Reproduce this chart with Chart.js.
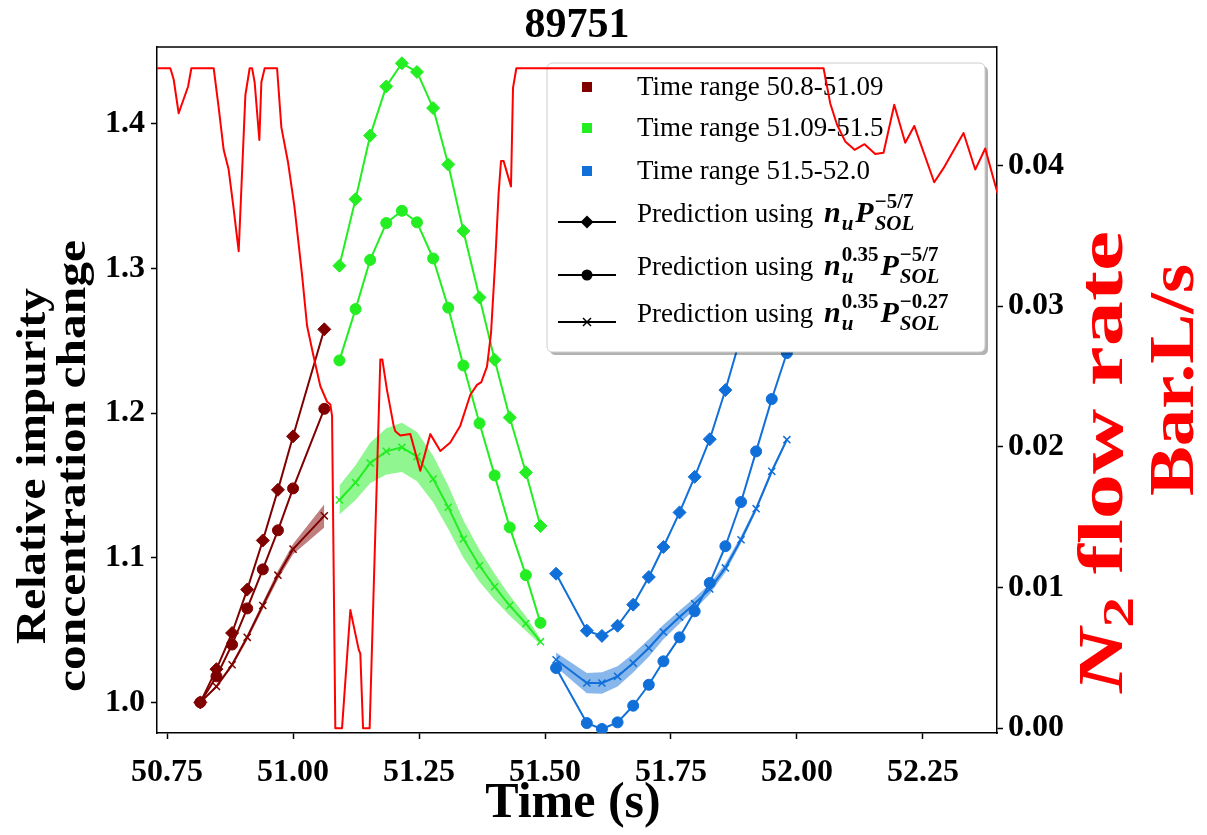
<!DOCTYPE html>
<html>
<head>
<meta charset="utf-8">
<script src="https://cdn.jsdelivr.net/npm/chart.js@4.4.1/dist/chart.umd.min.js"></script>
<style>
  html, body { margin: 0; padding: 0; background: #ffffff; }
  #wrap { width: 1207px; height: 835px; }
</style>
</head>
<body>
<div id="wrap"><canvas id="chart" width="1207" height="835"></canvas></div>
<script>
// ---- shot 89751: impurity concentration change vs time, with N2 flow rate ----

const shotTitle = '89751';

// axis ticks
const xTickValues  = [50.75, 51.00, 51.25, 51.50, 51.75, 52.00, 52.25];
const yTickValues  = [1.0, 1.1, 1.2, 1.3, 1.4];
const y2TickValues = [0.00, 0.01, 0.02, 0.03, 0.04];

// time range 50.8-51.09
const darkTimes   = [50.816, 50.848, 50.879, 50.909, 50.940, 50.970, 51.000, 51.062];
const darkDiamond = [1.000, 1.023, 1.048, 1.078, 1.112, 1.147, 1.184, 1.258];
const darkCircle  = [1.000, 1.018, 1.040, 1.065, 1.092, 1.119, 1.148, 1.203];
const darkCross   = [1.000, 1.011, 1.026, 1.045, 1.067, 1.088, 1.106, 1.129];
const darkSpread  = [0.0005, 0.001, 0.0015, 0.002, 0.0025, 0.003, 0.0035, 0.008];

// time range 51.09-51.5
const greenTimes   = [51.092, 51.124, 51.153, 51.185, 51.216, 51.246, 51.278, 51.308, 51.338, 51.370, 51.400, 51.430, 51.462, 51.491];
const greenDiamond = [1.302, 1.348, 1.392, 1.426, 1.442, 1.436, 1.411, 1.372, 1.326, 1.280, 1.237, 1.197, 1.159, 1.122];
const greenCircle  = [1.2365, 1.272, 1.306, 1.3315, 1.340, 1.332, 1.307, 1.273, 1.233, 1.193, 1.157, 1.121, 1.088, 1.055];
const greenCross   = [1.140, 1.152, 1.1655, 1.1736, 1.1764, 1.170, 1.1545, 1.135, 1.113, 1.0945, 1.080, 1.067, 1.0545, 1.042];
const greenSpread  = [0.010, 0.012, 0.014, 0.016, 0.017, 0.017, 0.016, 0.015, 0.013, 0.011, 0.009, 0.007, 0.005, 0.002];

// time range 51.5-52.0
const blueTimes   = [51.522, 51.583, 51.613, 51.644, 51.675, 51.706, 51.735, 51.767, 51.797, 51.827, 51.858, 51.889, 51.919, 51.950, 51.980];
const blueDiamond = [1.089, 1.0496, 1.046, 1.053, 1.0676, 1.0867, 1.1075, 1.1314, 1.156, 1.182, 1.216, 1.2535, 1.2935, 1.337, 1.384];
const blueCircle  = [1.0238, 0.9857, 0.9816, 0.9862, 0.9977, 1.0122, 1.0284, 1.045, 1.063, 1.0826, 1.108, 1.1386, 1.1736, 1.2098, 1.2416];
const blueCross   = [1.0295, 1.0134, 1.0134, 1.018, 1.0272, 1.0376, 1.0487, 1.059, 1.0683, 1.0784, 1.093, 1.1125, 1.134, 1.1598, 1.1817];
const blueSpread  = [0.005, 0.007, 0.0075, 0.007, 0.0065, 0.006, 0.005, 0.0045, 0.004, 0.0035, 0.003, 0.0025, 0.002, 0.002, 0.0015];

// N2 flow rate (Bar.L/s)
const n2Times = [50.730, 50.7565, 50.7631, 50.7730, 50.7917, 50.7982, 50.8425, 50.8524, 50.8623, 50.8722,
  50.8821, 50.8921, 50.9054, 50.9139, 50.9187, 50.9238, 50.9331, 50.9371, 50.9437, 50.9683,
  50.9768, 50.9901, 51.0026, 51.0111, 51.0179, 51.0278, 51.0409, 51.0542, 51.0675, 51.0740,
  51.0774, 51.0839, 51.0972, 51.1137, 51.1302, 51.1335, 51.1389, 51.1520, 51.1732, 51.1772,
  51.1861, 51.1996, 51.2030, 51.2129, 51.2327, 51.2526, 51.2724, 51.2923, 51.3121, 51.3319,
  51.3518, 51.3651, 51.3736, 51.3849, 51.3929, 51.4014, 51.4079, 51.4127, 51.4179, 51.4325,
  51.4365, 51.4431, 52.0528, 52.0661, 52.0794, 52.0958, 52.1143, 52.1341, 52.1554, 52.1718,
  52.1931, 52.2149, 52.2328, 52.2724, 52.2909, 52.3306, 52.3538, 52.3736, 52.3935, 52.4050];
const n2Rates = [0.0469, 0.0469, 0.0461, 0.0437, 0.0456, 0.0469, 0.0469, 0.0441, 0.0411, 0.0397,
  0.0369, 0.0339, 0.0450, 0.0469, 0.0469, 0.0459, 0.0418, 0.0459, 0.0469, 0.0469,
  0.0427, 0.0402, 0.0371, 0.0344, 0.0322, 0.0286, 0.0264, 0.0243, 0.0232, 0.0230,
  0.0222, 0.0000, 0.0000, 0.0084, 0.0056, 0.0053, 0.0000, 0.0000, 0.0262, 0.0262,
  0.0241, 0.0215, 0.0211, 0.0208, 0.0209, 0.0183, 0.0209, 0.0197, 0.0203, 0.0215,
  0.0237, 0.0244, 0.0246, 0.0257, 0.0281, 0.0333, 0.0380, 0.0403, 0.0403, 0.0385,
  0.0455, 0.0469, 0.0469, 0.0444, 0.0429, 0.0417, 0.0411, 0.0415, 0.0408, 0.0409,
  0.0443, 0.0416, 0.0428, 0.0388, 0.0398, 0.0423, 0.0397, 0.0412, 0.0386, 0.0372];

// legend content
const rangeLabels = ['Time range 50.8-51.09', 'Time range 51.09-51.5', 'Time range 51.5-52.0'];
const predictionPrefix = 'Prediction using ';
const nExponents = [null, '0.35', '0.35'];
const pExponents = ['\u22125/7', '\u22125/7', '\u22120.27'];

// styles
const DARK = '#800000', GREEN = '#22ee22', BLUE = '#116fd9', RED = '#ff0000';
const SERIF = "'Liberation Serif', 'DejaVu Serif', serif";

const pts = (xs, ys) => xs.map((x, i) => ({ x: x, y: ys[i] }));
const offset = (ys, d, s) => ys.map((v, i) => v + s * d[i]);

function groupDatasets(times, diamond, circle, cross, spread, color, band) {
  const common = { yAxisID: 'y', borderColor: color, backgroundColor: color, borderWidth: 2,
                   pointBackgroundColor: color, pointBorderColor: color, tension: 0, fill: false };
  return [
    { data: pts(times, offset(cross, spread, -1)), yAxisID: 'y', borderWidth: 0, pointRadius: 0, fill: false, order: 5 },
    { data: pts(times, offset(cross, spread, 1)), yAxisID: 'y', borderWidth: 0, pointRadius: 0, fill: '-1', backgroundColor: band, order: 5 },
    Object.assign({}, common, { data: pts(times, diamond), pointStyle: 'rectRot', pointRadius: 6.5, pointBorderWidth: 1, order: 2 }),
    Object.assign({}, common, { data: pts(times, circle), pointStyle: 'circle', pointRadius: 5.5, pointBorderWidth: 1, order: 2 }),
    Object.assign({}, common, { data: pts(times, cross), pointStyle: 'crossRot', pointRadius: 5, pointBorderWidth: 1.5, order: 2 })
  ];
}

const datasets = [].concat(
  groupDatasets(darkTimes, darkDiamond, darkCircle, darkCross, darkSpread, DARK, 'rgba(128,0,0,0.5)'),
  groupDatasets(greenTimes, greenDiamond, greenCircle, greenCross, greenSpread, GREEN, 'rgba(34,238,34,0.5)'),
  groupDatasets(blueTimes, blueDiamond, blueCircle, blueCross, blueSpread, BLUE, 'rgba(17,111,217,0.5)'),
  [{ id: 'n2', data: pts(n2Times, n2Rates), yAxisID: 'y2', borderColor: RED, borderWidth: 2,
     pointRadius: 0, tension: 0, fill: false, order: 0 }]
);

function roundRect(ctx, x, y, w, h, r) {
  ctx.beginPath();
  ctx.moveTo(x + r, y);
  ctx.lineTo(x + w - r, y); ctx.quadraticCurveTo(x + w, y, x + w, y + r);
  ctx.lineTo(x + w, y + h - r); ctx.quadraticCurveTo(x + w, y + h, x + w - r, y + h);
  ctx.lineTo(x + r, y + h); ctx.quadraticCurveTo(x, y + h, x, y + h - r);
  ctx.lineTo(x, y + r); ctx.quadraticCurveTo(x, y, x + r, y);
  ctx.closePath();
}

function marker(ctx, style, x, y) {
  ctx.beginPath();
  if (style === 'diamond') {
    const r = 6.5;
    ctx.moveTo(x, y - r); ctx.lineTo(x + r, y); ctx.lineTo(x, y + r); ctx.lineTo(x - r, y); ctx.closePath(); ctx.fill();
  } else if (style === 'circle') {
    ctx.arc(x, y, 5.5, 0, Math.PI * 2); ctx.fill();
  } else {
    const r = 4;
    ctx.lineWidth = 1.5;
    ctx.moveTo(x - r, y - r); ctx.lineTo(x + r, y + r); ctx.moveTo(x + r, y - r); ctx.lineTo(x - r, y + r); ctx.stroke();
  }
}

// symbol with stacked superscript / subscript, returns new x
function mathSymbol(ctx, x, base, sym, sup, sub) {
  ctx.font = 'italic bold 30px ' + SERIF;
  ctx.fillText(sym, x, base);
  x += ctx.measureText(sym).width + 1;
  let w = 0;
  if (sup) { ctx.font = 'bold 21px ' + SERIF; ctx.fillText(sup, x, base - 14); w = Math.max(w, ctx.measureText(sup).width); }
  if (sub) { ctx.font = 'italic bold 21px ' + SERIF; ctx.fillText(sub, x, base + 8); w = Math.max(w, ctx.measureText(sub).width); }
  return x + w + 2;
}

function drawLegend(chart) {
  const ctx = chart.ctx;
  const L = { x: 547, y: 63, w: 438, h: 289 };
  ctx.save();
  ctx.fillStyle = 'rgba(0,0,0,0.3)';
  roundRect(ctx, L.x + 3, L.y + 3, L.w, L.h, 6); ctx.fill();
  ctx.fillStyle = '#ffffff';
  roundRect(ctx, L.x, L.y, L.w, L.h, 6); ctx.fill();
  ctx.strokeStyle = '#cccccc'; ctx.lineWidth = 1; ctx.stroke();

  const mx = L.x + 40, tx = L.x + 90;
  const rangeColors = [DARK, GREEN, BLUE];
  const rangeRows = [87, 128, 171];
  ctx.textAlign = 'left'; ctx.textBaseline = 'alphabetic';
  rangeLabels.forEach((label, i) => {
    ctx.fillStyle = rangeColors[i];
    ctx.fillRect(mx - 5, rangeRows[i] - 5, 10, 10);
    ctx.fillStyle = '#000';
    ctx.font = '27px ' + SERIF;
    ctx.fillText(label, tx, rangeRows[i] + 8);
  });

  const predRows = [222, 275, 322];
  const styles = ['diamond', 'circle', 'cross'];
  predRows.forEach((y, i) => {
    ctx.strokeStyle = '#000'; ctx.fillStyle = '#000'; ctx.lineWidth = 2;
    ctx.beginPath(); ctx.moveTo(mx - 29, y); ctx.lineTo(mx + 29, y); ctx.stroke();
    marker(ctx, styles[i], mx, y);
    ctx.font = '27px ' + SERIF;
    ctx.fillText(predictionPrefix, tx, y);
    let x = tx + ctx.measureText(predictionPrefix).width + 4;
    x = mathSymbol(ctx, x, y, 'n', nExponents[i], 'u');
    mathSymbol(ctx, x, y, 'P', pExponents[i], 'SOL');
  });
  ctx.restore();
}

// draws rotated text pieces stretched along the reading direction to a given length
function rotatedLine(ctx, pieces, cx, cy, baseX, length) {
  let total = 0;
  pieces.forEach(p => { ctx.font = p.font; p.w = ctx.measureText(p.text).width; total += p.w; });
  const sx = length / total;
  ctx.save();
  ctx.translate(baseX, cy);
  ctx.rotate(-Math.PI / 2);
  ctx.scale(sx, 1);
  ctx.textAlign = 'left';
  let x = -total / 2;
  pieces.forEach(p => { ctx.font = p.font; ctx.fillText(p.text, x, p.dy || 0); x += p.w; });
  ctx.restore();
}

const decorations = {
  id: 'decorations',
  beforeDatasetDraw(chart, args) {
    if (chart.data.datasets[args.index].id === 'n2') drawLegend(chart);
  },
  afterDraw(chart) {
    const ctx = chart.ctx, a = chart.chartArea;
    ctx.save();
    // top spine
    ctx.strokeStyle = '#000'; ctx.lineWidth = 1.5;
    ctx.beginPath(); ctx.moveTo(a.left, a.top); ctx.lineTo(a.right, a.top); ctx.stroke();

    ctx.fillStyle = '#000'; ctx.textAlign = 'center'; ctx.textBaseline = 'alphabetic';
    ctx.font = 'bold 42px ' + SERIF;
    ctx.fillText(shotTitle, (a.left + a.right) / 2, 37);
    ctx.font = 'bold 50px ' + SERIF;
    ctx.fillText('Time (s)', (a.left + a.right) / 2 - 4, 817);

    // left axis title
    const bl = 'bold 43px ' + SERIF;
    rotatedLine(ctx, [{ text: 'Relative impurity', font: bl }], 0, 466, 45, 356);
    rotatedLine(ctx, [{ text: 'concentration change', font: bl }], 0, 466, 85, 452);

    // right axis title
    ctx.fillStyle = RED;
    const br = 'bold 64px ' + SERIF;
    rotatedLine(ctx, [
      { text: 'N', font: 'italic ' + br },
      { text: '2', font: 'bold 44px ' + SERIF, dy: 11 },
      { text: ' flow rate', font: br }
    ], 0, 462, 1122, 462);
    rotatedLine(ctx, [{ text: 'Bar.L/s', font: br }], 0, 380, 1193, 232);
    ctx.restore();
  }
};

const tickFont = { family: SERIF, size: 32, weight: 'bold' };
const axisGrid = { drawOnChartArea: false, tickLength: 6, tickColor: '#000', tickWidth: 1.5 };
const axisBorder = { display: true, color: '#000', width: 1.5 };

new Chart(document.getElementById('chart'), {
  type: 'line',
  data: { datasets: datasets },
  options: {
    responsive: false,
    animation: false,
    devicePixelRatio: 1,
    layout: { padding: { top: 47, left: 0, right: 0, bottom: 0 } },
    plugins: { legend: { display: false }, tooltip: { enabled: false }, title: { display: false } },
    elements: { line: { borderJoinStyle: 'round' } },
    scales: {
      x: {
        type: 'linear', position: 'bottom', min: 50.730, max: 52.397,
        afterFit: s => { s.height = 102; },
        afterBuildTicks: s => { s.ticks = xTickValues.map(v => ({ value: v })); },
        ticks: { font: tickFont, color: '#000', padding: 15, maxRotation: 0, autoSkip: false,
                 callback: v => Number(v).toFixed(2) },
        grid: axisGrid, border: axisBorder
      },
      y: {
        type: 'linear', position: 'left', min: 0.97884, max: 1.45325,
        afterFit: s => { s.width = 157; },
        afterBuildTicks: s => { s.ticks = yTickValues.map(v => ({ value: v })); },
        ticks: { font: tickFont, color: '#000', padding: 6, callback: v => Number(v).toFixed(1) },
        grid: axisGrid, border: axisBorder
      },
      y2: {
        type: 'linear', position: 'right', min: -0.00034, max: 0.04841,
        afterFit: s => { s.width = 210; },
        afterBuildTicks: s => { s.ticks = y2TickValues.map(v => ({ value: v })); },
        ticks: { font: tickFont, color: '#000', padding: 5, callback: v => Number(v).toFixed(2) },
        grid: axisGrid, border: axisBorder
      }
    }
  },
  plugins: [decorations]
});
</script>
</body>
</html>
